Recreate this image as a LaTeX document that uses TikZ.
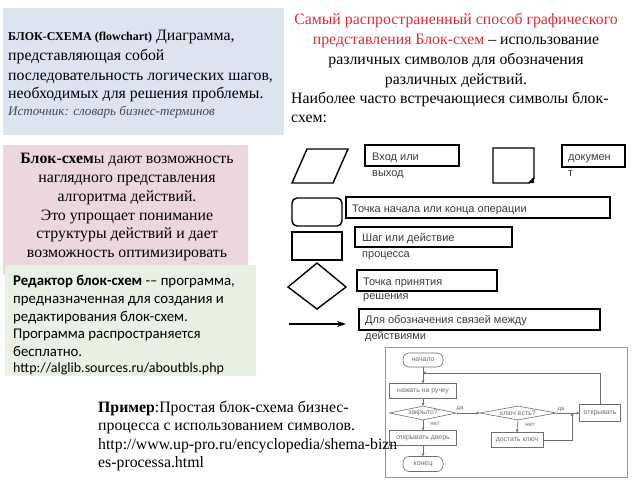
\documentclass[tikz,border=0pt]{standalone}
\usepackage{fontspec}
\setmainfont{Liberation Serif}
\newfontfamily\calfont{Carlito}
\newfontfamily\arifont{Liberation Sans}
\usetikzlibrary{shapes.geometric,arrows.meta}
\definecolor{boxblue}{RGB}{220,228,240}
\definecolor{boxpink}{RGB}{237,215,220}
\definecolor{boxgreen}{RGB}{233,241,226}
\definecolor{redtxt}{RGB}{222,45,55}
\definecolor{srcgray}{RGB}{70,70,80}
\definecolor{fcgray}{RGB}{110,110,110}
\definecolor{symtxt}{RGB}{60,60,60}
\tikzset{
  serif/.style={font=\fontsize{15.8}{18}\selectfont, inner sep=0pt},
  greentxt/.style={font=\calfont\fontsize{14.8}{17}\selectfont, inner sep=0pt, anchor=base west},
  symline/.style={line width=1.4pt, black},
  symbox/.style={line width=1.2pt, black},
  symlabel/.style={font=\arifont\fontsize{11}{13}\selectfont, text=symtxt, inner sep=0pt, anchor=base west},
  fcline/.style={draw=fcgray, line width=0.6pt},
  fcnode/.style={fcline, font=\arifont\fontsize{6.9}{8}\selectfont, text=fcgray, inner sep=0pt},
  fcrect/.style={fcnode, rectangle},
  fcterm/.style={fcnode, rectangle, rounded corners=6pt},
  fcdia/.style={fcnode, diamond, aspect=4.8},
  fcarrow/.style={fcline, -{Stealth[length=3pt,width=3pt,fill=black]}},
  fclab/.style={font=\arifont\fontsize{6}{7}\selectfont, text=fcgray, inner sep=0pt}
}
\begin{document}
\begin{tikzpicture}[x=1pt,y=-1pt]
\useasboundingbox (0,0) rectangle (640,480);
\fill[white] (0,0) rectangle (640,480);

% ---------- top-left definition box ----------
\fill[boxblue] (3,8) rectangle (284,135);
\node[serif, anchor=base west] (tl1) at (8,40) {{\fontsize{12}{14}\selectfont\bfseries БЛОК-СХЕМА (flowchart)} Диаграмма,};
\node[serif, anchor=base west] (tl2) at (8,60) {представляющая собой};
\node[serif, anchor=base west] (tl3) at (8,80) {последовательность логических шагов,};
\node[serif, anchor=base west] (tl4) at (8,98) {необходимых для решения проблемы.};
\node[serif, anchor=base west, font=\fontsize{13.1}{15}\selectfont\itshape, text=srcgray] (tl5) at (8,115) {Источник: словарь бизнес-терминов};

% ---------- top-right text ----------
\node[serif, anchor=base, text=redtxt] (tr1) at (456,24) {Самый распространенный способ графического};
\node[serif, anchor=base] (tr2) at (456,44) {\textcolor{redtxt}{представления Блок-схем} – использование};
\node[serif, anchor=base] (tr3) at (456,64) {различных символов для обозначения};
\node[serif, anchor=base] (tr4) at (456,84) {различных действий.};
\node[serif, anchor=base west] (tr5) at (291,103) {Наиболее часто встречающиеся символы блок-};
\node[serif, anchor=base west] (tr6) at (291,122) {схем:};

% ---------- pink box ----------
\fill[boxpink] (3,145) rectangle (248,275);
\node[serif, anchor=base] (pk1) at (127,163) {\textbf{Блок-схем}ы дают возможность};
\node[serif, anchor=base] (pk2) at (127,182) {наглядного представления};
\node[serif, anchor=base] (pk3) at (127,201) {алгоритма действий.};
\node[serif, anchor=base] (pk4) at (127,220) {Это упрощает понимание};
\node[serif, anchor=base] (pk5) at (127,238) {структуры действий и дает};
\node[serif, anchor=base] (pk6) at (127,257) {возможность оптимизировать};

% ---------- green box ----------
\fill[boxgreen] (5,265) rectangle (256,376);
\node[greentxt] (gr1) at (13,285) {\textbf{Редактор блок-схем} -– программа,};
\node[greentxt] (gr2) at (13,303) {предназначенная для создания и};
\node[greentxt] (gr3) at (13,321) {редактирования блок-схем.};
\node[greentxt] (gr4) at (13,338) {Программа распространяется};
\node[greentxt] (gr5) at (13,356) {бесплатно.};
\node[greentxt, font=\calfont\fontsize{14}{16}\selectfont] (gr6) at (13,372) {http://alglib.sources.ru/aboutbls.php};

% ---------- symbols ----------
\draw[symline] (307,149) -- (348,149) -- (333,183) -- (292,183) -- cycle;
\draw[symbox] (365,145) rectangle (459,166);
\node[symlabel] (s1a) at (372,160) {Вход или};
\node[symlabel] (s1b) at (372,176) {выход};

\draw[symline] (493,148) -- (534,148) -- (534,178) -- (529,183) -- (493,183) -- cycle;
\fill[black] (534,177) -- (534,183) -- (528,183) -- cycle;
\draw[symbox] (562,145) rectangle (625,167);
\node[symlabel] (s2a) at (568,160) {докумен};
\node[symlabel] (s2b) at (568,176) {т};

\draw[symline, rounded corners=5pt] (292,198) rectangle (342,226);
\draw[symbox] (346,197) rectangle (610,218);
\node[symlabel] (s3a) at (352,212) {Точка начала или конца операции};

\draw[symline] (292,232) rectangle (342,260);
\draw[symbox] (355,227) rectangle (512,247);
\node[symlabel] (s4a) at (362,241) {Шаг или действие};
\node[symlabel] (s4b) at (362,257) {процесса};

\draw[symline] (288,287) -- (317,263) -- (346,287) -- (317,309) -- cycle;
\draw[symbox] (357,270) rectangle (497,291);
\node[symlabel] (s5a) at (363,285) {Точка принятия};
\node[symlabel] (s5b) at (363,299) {решения};

\coordinate (arrA) at (289,324);
\coordinate (arrB) at (346,324);
\draw[symline, -{Stealth[length=9pt,width=6pt]}] (arrA) -- (arrB);
\draw[symbox] (359,309) rectangle (600,330);
\node[symlabel] (s6a) at (365,323) {Для обозначения связей между};
\node[symlabel] (s6b) at (365,339) {действиями};

% ---------- example flowchart ----------
\fill[white] (385,347) rectangle (627,477);
\draw[draw=fcgray!70, line width=0.8pt] (385,347) rectangle (627,477);
\node[fcterm, minimum width=40pt, minimum height=14pt] (n0) at (423,360) {начало};
\node[fcrect, minimum width=67pt, minimum height=15pt] (n1) at (423,391) {нажать на ручку};
\node[fcdia, minimum width=67pt, minimum height=14pt] (d1) at (423,413) {закрыто?};
\node[fcrect, minimum width=67pt, minimum height=15pt] (n2) at (423,438) {открывать дверь};
\node[fcterm, minimum width=40pt, minimum height=15pt] (n3) at (423,464) {конец};
\node[fcdia, minimum width=77pt, minimum height=14pt] (d2) at (518,413) {ключ есть?};
\node[fcrect, minimum width=52pt, minimum height=15pt] (n4) at (517,440) {достать ключ};
\node[fcrect, minimum width=41pt, minimum height=17pt] (n5) at (600,413) {открывать};
\coordinate (j1) at (423,373);
\coordinate (j2) at (572,413);

\draw[fcarrow] (n0) -- (n1);
\draw[fcarrow] (n5.north) |- (j1);
\draw[fcarrow] (n1) -- (d1);
\draw[fcarrow] (d1.east) -- (d2.west);
\node[fclab] (l1) at (460,408) {да};
\draw[fcarrow] (d1.south) -- (n2.north);
\node[fclab] (l2) at (435,424) {нет};
\draw[fcarrow] (n2) -- (n3);
\draw[fcarrow] (d2.east) -- (n5.west);
\node[fclab] (l3) at (561,409) {да};
\draw[fcarrow] (d2.south) -- (n4.north);
\node[fclab] (l4) at (530,425) {нет};
\draw[fcarrow] (n4.east) -| (j2);

% ---------- bottom text ----------
\node[serif, anchor=base west] (bt1) at (98,412) {\textbf{Пример}:Простая блок-схема бизнес-};
\node[serif, anchor=base west] (bt2) at (98,430) {процесса с использованием символов.};
\node[serif, anchor=base west] (bt3) at (98,449) {http://www.up-pro.ru/encyclopedia/shema-bizn};
\node[serif, anchor=base west] (bt4) at (98,467) {es-processa.html};
\end{tikzpicture}
\end{document}
